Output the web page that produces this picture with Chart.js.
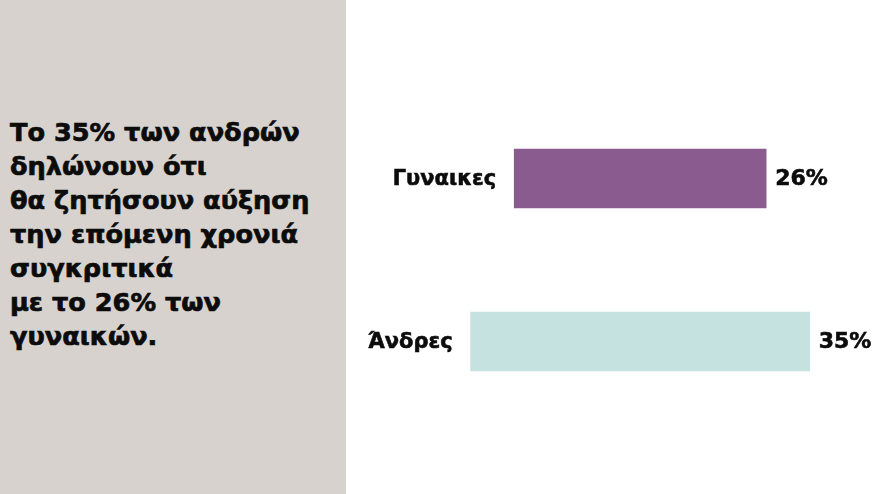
<!DOCTYPE html>
<html>
<head>
<meta charset="utf-8">
<script src="https://cdn.jsdelivr.net/npm/chart.js@4/dist/chart.umd.min.js"></script>
<style>
  html, body { margin: 0; padding: 0; background: #ffffff; }
  #page { position: relative; width: 880px; height: 494px; overflow: hidden; background: #ffffff; }
  #side {
    position: absolute; left: 0; top: 0; width: 346px; height: 494px;
    background: #d7d2ce;
  }
  #side p {
    position: absolute; left: 10px; top: 115px; margin: 0;
    font-family: "DejaVu Sans", sans-serif; font-weight: bold;
    font-size: 25.6px; line-height: 34px; color: #0c0c0c;
    -webkit-text-stroke: 0.7px #0c0c0c;
  }
  #wrap { position: absolute; left: 350px; top: 0; width: 530px; height: 494px; }
</style>
</head>
<body>
<div id="page">
  <div id="side">
    <p>Το 35% των ανδρών<br>δηλώνουν ότι<br>θα ζητήσουν αύξηση<br>την επόμενη χρονιά<br>συγκριτικά<br>με το 26% των<br>γυναικών.</p>
  </div>
  <div id="wrap"><canvas id="barChart"></canvas></div>
</div>
<script>
let categories = ['Γυναικες', 'Άνδρες'];
let percentValues = [26, 35];
let barColors = ['#8a5b8f', '#c5e1e0'];

// bars are centred, so each one runs from -v/2 to +v/2
let ranges = [];
for (let i = 0; i < percentValues.length; i++) {
    ranges.push([-percentValues[i] / 2, percentValues[i] / 2]);
}

const sideLabels = {
    id: 'sideLabels',
    afterDatasetsDraw(chart) {
        const ctx = chart.ctx;
        const meta = chart.getDatasetMeta(0);
        ctx.save();
        ctx.fillStyle = '#0c0c0c';
        ctx.strokeStyle = '#0c0c0c';
        ctx.lineWidth = 0.6;
        ctx.textBaseline = 'middle';
        meta.data.forEach(function(bar, i) {
            const left = Math.min(bar.x, bar.base);
            const right = Math.max(bar.x, bar.base);
            ctx.font = 'bold 21px "DejaVu Sans"';
            ctx.textAlign = 'right';
            ctx.fillText(categories[i], left - 18, bar.y + 1);
            ctx.strokeText(categories[i], left - 18, bar.y + 1);
            ctx.font = 'bold 22px "DejaVu Sans"';
            ctx.textAlign = 'left';
            ctx.fillText(percentValues[i] + '%', right + 9, bar.y + 1);
            ctx.strokeText(percentValues[i] + '%', right + 9, bar.y + 1);
        });
        ctx.restore();
    }
};

var ctx = document.getElementById('barChart').getContext('2d');
var barChart = new Chart(ctx, {
    type: 'bar',
    data: {
        labels: categories,
        datasets: [{
            data: ranges,
            backgroundColor: barColors,
            borderWidth: 0,
            barThickness: 59
        }]
    },
    options: {
        indexAxis: 'y',
        responsive: true,
        maintainAspectRatio: false,
        animation: false,
        layout: { padding: { top: 97, bottom: 71, left: 0, right: 0 } },
        scales: {
            x: { display: false, min: -29.95, max: 24.75 },
            y: { display: false }
        },
        plugins: {
            legend: { display: false },
            tooltip: { enabled: false }
        }
    },
    plugins: [sideLabels]
});
</script>
</body>
</html>
